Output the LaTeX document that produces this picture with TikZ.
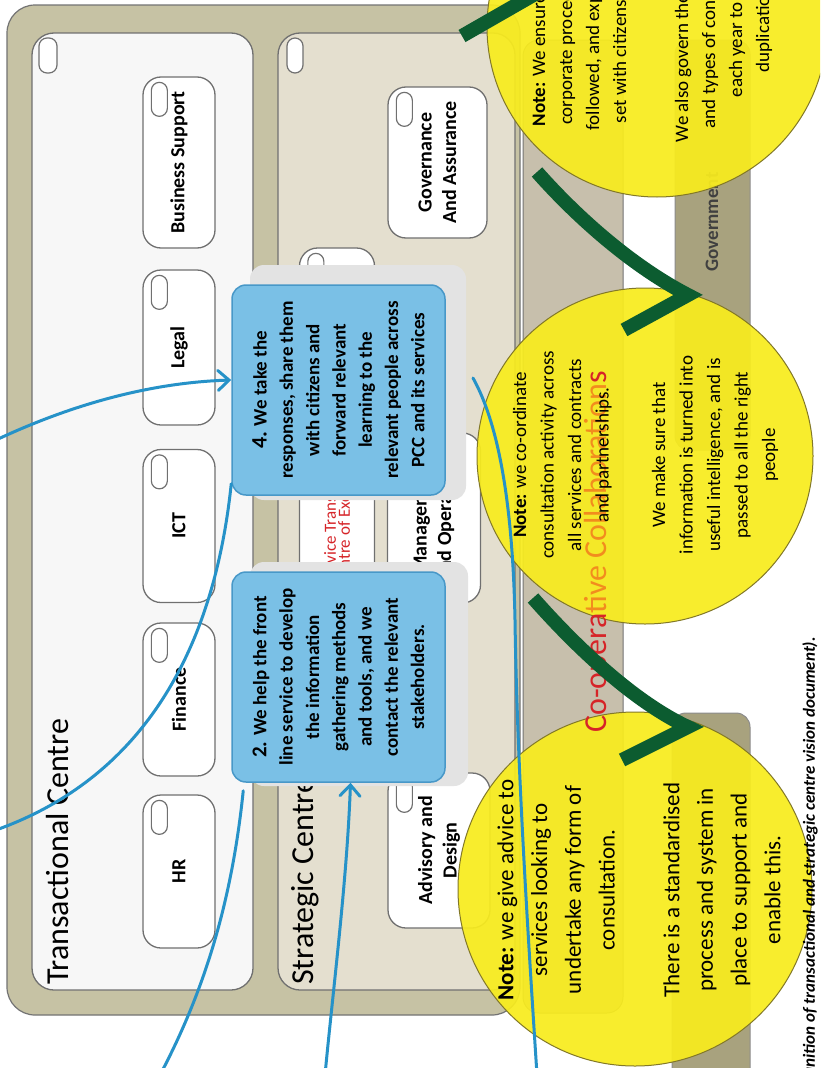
\documentclass[tikz,border=0pt]{standalone}
\usepackage{fontspec}
\setmainfont{Carlito}
\usetikzlibrary{arrows.meta}
\definecolor{framekhaki}{RGB}{198,194,164}
\definecolor{stratbeige}{RGB}{228,223,207}
\definecolor{bandtaupe}{RGB}{199,191,172}
\definecolor{govolive}{RGB}{168,162,126}
\definecolor{noteyellow}{RGB}{248,236,30}
\definecolor{noteedge}{RGB}{130,120,40}
\definecolor{calloutblue}{RGB}{122,192,230}
\definecolor{calloutedge}{RGB}{72,152,200}
\definecolor{curveblue}{RGB}{38,146,200}
\definecolor{arrowgreen}{RGB}{12,92,48}
\definecolor{coopred}{RGB}{214,36,40}
\definecolor{cooporange}{RGB}{242,140,30}
\definecolor{edgegray}{RGB}{112,112,112}
\newcommand{\unitpill}[1]{\draw[pill] ([xshift=9pt,yshift=-6pt]#1.north east) rectangle ++(16,34);}
\begin{document}
\begin{tikzpicture}[x=1pt,y=-1pt,line cap=round,
    unit/.style={draw=edgegray,line width=1.3pt,fill=white,rounded corners=18pt,rotate=90,align=center,inner sep=0pt,
      font=\fontsize{20}{24.5}\selectfont\bfseries,minimum width=153pt,minimum height=72pt},
    pill/.style={draw=edgegray,line width=1.2pt,fill=white,rounded corners=8pt},
    callout/.style={draw=calloutedge,line width=1.5pt,fill=calloutblue,rounded corners=14pt,rotate=90,align=center,inner sep=0pt,
      font=\fontsize{19}{26.3}\selectfont\bfseries,minimum width=210pt,minimum height=213pt},
    glow/.style={fill=black!11,rounded corners=14pt},
    note/.style={draw=noteedge,line width=1pt,fill=noteyellow,fill opacity=.93},
    notetext/.style={rotate=90,align=center,inner sep=0pt},
    title/.style={rotate=90,anchor=base west,inner sep=0pt,font=\fontsize{32}{32}\selectfont},
    bluecurve/.style={draw=curveblue,line width=3pt},
    bluetip/.style={-{Straight Barb[length=11pt,width=20pt,line cap=round]}},
    greenarr/.style={draw=arrowgreen,line width=14pt,line cap=butt,line join=miter}]
\useasboundingbox (0,0) rectangle (820,1068);
\clip (0,0) rectangle (820,1068);
\fill[white] (0,0) rectangle (820,1068);
\draw[fill=bandtaupe,draw=black!55,line width=1pt,rounded corners=16pt] (523,40) rectangle (623,1013);
\draw[fill=govolive,draw=black!45,line width=1pt,rounded corners=14pt] (675,40) rectangle (750,450);
\draw[fill=govolive,draw=black!45,line width=1pt,rounded corners=14pt] (672,713) rectangle (750,1100);
\draw[fill=framekhaki,draw=black!55,line width=1.2pt,rounded corners=28pt] (7,5) rectangle (520,1015);
\draw[fill=black!3,draw=edgegray,line width=1.3pt,rounded corners=22pt] (32,33) rectangle (253,990);
\draw[fill=stratbeige,draw=edgegray,line width=1.3pt,rounded corners=22pt] (278,33) rectangle (515,990);
\draw[pill] (39,38) rectangle (57,73);
\draw[pill] (287,38) rectangle (303,73);
\node[title] (transtitle) at (68,985) {Transactional Centre};
\node[title] (strattitle) at (313,985) {Strategic Centre};
\node[unit,minimum width=171pt] (bizsup) at (179,162.5) {Business Support};
\node[unit,minimum width=155pt] (legal) at (179,347.5) {Legal};
\node[unit] (ict) at (179,526) {ICT};
\node[unit] (finance) at (179,699.5) {Finance};
\node[unit] (hr) at (179,871.5) {HR};
\unitpill{bizsup}
\unitpill{legal}
\unitpill{ict}
\unitpill{finance}
\unitpill{hr}
\node[unit,minimum height=99pt,minimum width=151pt] (gov) at (437.5,162.5) {Governance\\And Assurance};
\node[unit,minimum height=75pt,minimum width=517pt,text=coopred,align=left,font=\fontsize{17}{14}\selectfont] (svc) at (337,506.5) {Service Transformation\\Centre of Excellence};
\node[unit,minimum height=93pt,minimum width=170pt] (mgmt) at (434,518) {Management\\and Operations};
\node[unit,minimum height=102pt,minimum width=155pt] (adv) at (439,850.5) {Advisory and\\Design};
\unitpill{gov}
\unitpill{svc}
\unitpill{adv}
\node[rotate=90,text=black!75,font=\fontsize{19}{19}\selectfont\bfseries] (govt) at (712,222) {Government};
\fill[glow] (250,265) rectangle (466,500);
\fill[glow] (250,562) rectangle (468,786);
\node[callout] (box4) at (338.5,390) {{\fontsize{22}{26}\selectfont 4.} We take the\\responses, share them\\with citizens and\\forward relevant\\learning to the\\relevant people across\\PCC and its services};
\node[callout] (box2) at (338.5,677) {{\fontsize{21}{26}\selectfont 2.} We help the front\\line service to develop\\the information\\gathering methods\\and tools, and we\\contact the relevant\\stakeholders.};
\draw[note] (657,27) circle[radius=170];
\draw[note] (645,456) circle[radius=168];
\draw[note] (635,889) circle[radius=177];
\node[rotate=90,anchor=west,inner sep=0pt,font=\fontsize{32}{32}\selectfont] (coop) at (598,733) {\textcolor{coopred}{Co-opera}\textcolor{cooporange}{tive Collaboration}\textcolor{coopred}{s}};
\node[notetext,font=\fontsize{19}{27}\selectfont] (noteA) at (652,27) {\textbf{Note:} We ensure that the\\corporate procedures are\\followed, and expectations\\set with citizens are met.\\[35pt]We also govern the frequency\\and types of consultations\\each year to avoid\\duplication.};
\node[notetext,font=\fontsize{19}{27.5}\selectfont] (noteB) at (645.5,455) {\textbf{Note:} we co-ordinate\\consultation activity across\\all services and contracts\\and partnerships.\\[29pt]We make sure that\\information is turned into\\useful intelligence, and is\\passed to all the right\\people};
\node[notetext,font=\fontsize{23}{33.7}\selectfont] (noteC) at (639,890) {\textbf{Note:} we give advice to\\services looking to\\undertake any form of\\consultation.\\[31pt]There is a standardised\\process and system in\\place to support and\\enable this.};
\coordinate (leftA) at (-4,440);
\coordinate (leftB) at (-4,830);
\coordinate (baseC) at (160,1075);
\coordinate (baseD) at (325,1075);
\coordinate (topE) at (473,378);
\coordinate (baseE) at (537,1075);
\draw[bluecurve,bluetip] (leftA) .. controls (60,410) and (140,383) .. ([yshift=10pt]box4.north);
\draw[bluecurve] ([yshift=12pt]box4.north west) .. controls (215,640) and (150,775) .. (leftB);
\draw[bluecurve] ([xshift=12pt,yshift=-8pt]box2.north west) .. controls (232,900) and (205,990) .. (baseC);
\draw[bluecurve,bluetip] (baseD) .. controls (333,990) and (347,880) .. ([xshift=12pt]box2.west);
\draw[bluecurve] (topE) .. controls (502,430) and (513,520) .. (515,620) .. controls (517,760) and (527,920) .. (baseE);
\coordinate (gTopV) at (530,-3);
\coordinate (gTopE) at (462,36);
\coordinate (gMidS) at (537,172);
\coordinate (gMidV) at (688,295);
\coordinate (gMidE) at (624,330);
\coordinate (gLowS) at (533,598);
\coordinate (gLowV) at (688,727);
\coordinate (gLowE) at (622,760);
\draw[greenarr] (420,-120) .. controls (470,-60) and (500,-20) .. (gTopV) -- (gTopE);
\draw[greenarr] (gMidS) .. controls (575,215) and (630,265) .. (gMidV) -- (gMidE);
\draw[greenarr] (gLowS) .. controls (570,640) and (630,700) .. (gLowV) -- (gLowE);
\node[rotate=90,anchor=east,inner sep=0pt,font=\fontsize{17}{17}\selectfont\bfseries\itshape] (caption) at (810,637) {Definition of transactional and strategic centre vision document).};
\end{tikzpicture}
\end{document}
